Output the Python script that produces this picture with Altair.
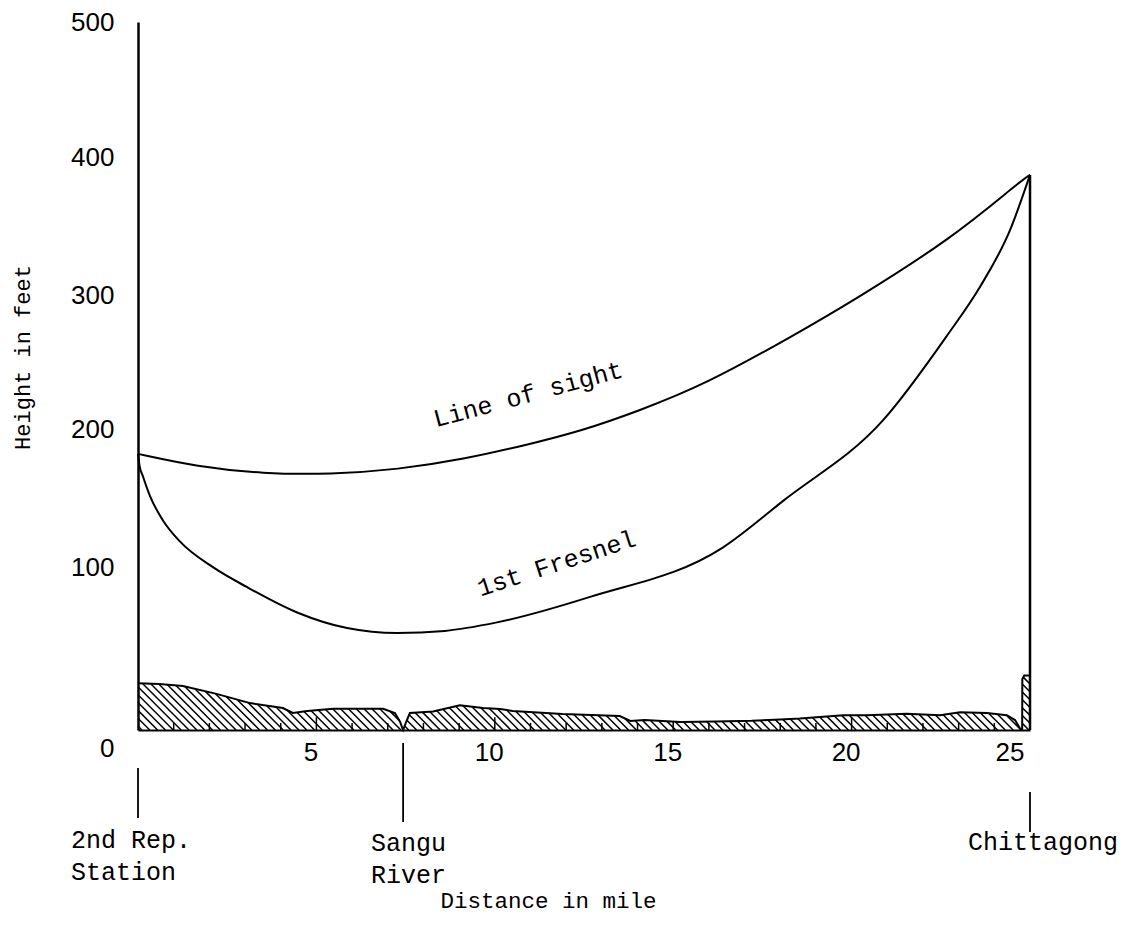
import altair as alt
import numpy as np
import pandas as pd

# Line of sight between the two stations (distance in miles, height in feet)
los_miles = [0, 1.65, 3.5, 5.4, 7.3, 9.1, 11.0, 12.4, 14.0, 15.9, 18.4, 20.1, 22.8, 24.7, 25]
los_feet = [195, 186, 181, 180.5, 184, 191, 202, 211, 225, 244, 279, 304, 347, 387, 392]

# Lower edge of the first Fresnel zone
fres_miles = [0, 0.04, 0.14, 0.34, 0.70, 1.18, 2.10, 3.05, 4.46, 5.86, 7.26, 8.6, 10.06,
              12.67, 16.4, 18.09, 20.89, 22.66, 23.6, 24.44, 25]
fres_feet = [195, 187, 179, 165, 148, 133, 115, 101, 83, 72, 68.5, 70, 76,
             94, 129, 162, 219, 278, 313, 353, 392]

# Ground profile along the path (river notch near 7.4 mi, tower block at Chittagong)
ground_miles = [0, 0.6, 1.26, 2.2, 3.14, 4.06, 4.34, 4.74, 5.47, 6.87, 7.2, 7.34, 7.43,
                7.52, 7.62, 8.27, 9.02, 9.67, 10.15, 10.5, 11.9, 13.5, 13.8, 14.2, 15.2,
                16.2, 17.2, 18.0, 18.55, 19.77, 20.42, 21.54, 22.48, 23.04, 23.79, 24.35,
                24.58, 24.70, 24.74, 24.78, 24.785, 24.84, 25.0]
ground_feet = [33, 32.5, 31, 25.5, 19, 15.5, 12, 13.4, 15, 15, 12, 6, 0,
               6, 12, 13, 17.5, 15.5, 14.8, 13.4, 11.3, 9.9, 6.4, 7, 5.6,
               6, 6.5, 7.5, 8.2, 10.5, 10.5, 11.5, 10.5, 12.5, 12, 10.5,
               7, 2, 0, 0, 36, 38.5, 38.5]

# Axis labels
x_tick_values = [5, 10, 15, 20, 25]
y_tick_values = [0, 100, 200, 300, 400, 500]

# Places marked under the distance axis
place_miles = [0, 7.43, 25]
place_names = ["2nd Rep.\nStation", "Sangu\nRiver", "Chittagong"]
# pointer top / bottom, text baseline (pixels from plot top) and text shift
place_style = [(746, 796, 826, -67), (721, 800, 829, -32), (770, 810, 828, -62)]

FONT = "Liberation Mono"
NUM_FONT = "Liberation Sans"

los = pd.DataFrame({"mi": los_miles, "ft": los_feet})
fres = pd.DataFrame({"mi": fres_miles, "ft": fres_feet})
ground = pd.DataFrame({"mi": ground_miles, "ft": ground_feet, "order": range(len(ground_miles))})

# Diagonal hatching of the ground section, clipped to the profile
slope = 25.2   # feet per mile along a hatch stroke
spacing = 0.22
xs = np.arange(0, 25.0001, 0.004)
ts = np.interp(xs, ground_miles, ground_feet)
segs = []
for c in np.arange(spacing / 2, 25 + max(ground_feet) / slope, spacing):
    h = (c - xs) * slope
    idx = np.flatnonzero((h >= 0) & (h <= ts))
    if idx.size == 0:
        continue
    br = np.flatnonzero(np.diff(idx) > 1)
    starts = np.r_[idx[0], idx[br + 1]]
    ends = np.r_[idx[br], idx[-1]]
    for s, e in zip(starts, ends):
        if e - s < 1:
            continue
        segs.append({"mi": xs[s], "ft": h[s], "mi2": xs[e], "ft2": h[e]})
hatch = pd.DataFrame(segs)

# Mile marks on the base line, taller every five miles
mile_marks = pd.DataFrame({"mi": list(range(1, 25))})
mile_marks["ft"] = [min(9 if m % 5 == 0 else 5, float(np.interp(m, ground_miles, ground_feet)))
                    for m in mile_marks["mi"]]

xscale = alt.Scale(domain=[0, 25], nice=False, zero=False)
yscale = alt.Scale(domain=[0, 500], nice=False)

# Typed tick labels sit a little off the ruled scale
y_label_offset = {
    "condition": [
        {"test": "datum.value == 0", "value": 18},
        {"test": "datum.value == 100", "value": -21},
        {"test": "datum.value == 200", "value": -17},
        {"test": "datum.value == 300", "value": -10},
        {"test": "datum.value == 400", "value": -6},
    ],
    "value": 0,
}

x_axis = alt.Axis(values=x_tick_values, title="Distance in mile", grid=False, ticks=False,
                  domainColor="black", domainWidth=2, labelFont=NUM_FONT, labelFontSize=26,
                  labelColor="black", labelBaseline="middle", labelPadding=22, labelOffset=-6,
                  titleFont=FONT, titleFontSize=22.5, titleFontWeight="normal", titleColor="black",
                  titleX=410, titleY=170, titleBaseline="middle")
y_axis = alt.Axis(values=y_tick_values, title="Height in feet", grid=False, ticks=False,
                  domainColor="black", domainWidth=2.5, labelFont=NUM_FONT, labelFontSize=26,
                  labelColor="black", labelBaseline="middle", labelPadding=24,
                  labelOffset=y_label_offset,
                  titleFont=FONT, titleFontSize=22, titleFontWeight="normal", titleColor="black",
                  titleX=-116, titleY=335, titleBaseline="middle", titleAlign="center")

X = alt.X("mi:Q", scale=xscale, axis=x_axis)
Y = alt.Y("ft:Q", scale=yscale, axis=y_axis)

hatch_layer = alt.Chart(hatch).mark_rule(color="black", strokeWidth=1.5).encode(
    x=X, y=Y, x2="mi2:Q", y2="ft2:Q",
)

ground_line = alt.Chart(ground).mark_line(color="black", strokeWidth=2).encode(
    x=X, y=Y, order="order:Q",
)

marks_layer = alt.Chart(mile_marks).mark_rule(color="black", strokeWidth=1.5).encode(
    x=X, y=Y, y2=alt.datum(0),
)

los_line = alt.Chart(los).mark_line(color="black", strokeWidth=2, interpolate="basis").encode(
    x=X, y=Y,
)
fres_line = alt.Chart(fres).mark_line(color="black", strokeWidth=2, interpolate="monotone").encode(
    x=X, y=Y,
)

# Mast line at Chittagong up to the end of the sight line
mast = alt.Chart(pd.DataFrame({"mi": [los_miles[-1]], "ft": [los_feet[-1]]})).mark_rule(
    color="black", strokeWidth=2.5
).encode(x=X, y=Y, y2=alt.datum(0))

curve_labels = pd.DataFrame({
    "mi": [10.99, 11.8],
    "ft": [231.6, 112.3],
    "label": ["Line of sight", "1st Fresnel"],
    "angle": [345, 342],
})
curve_text = alt.Chart(curve_labels).mark_text(
    font=FONT, fontSize=25, color="black", align="center", baseline="alphabetic"
).encode(
    x=X, y=Y, text="label:N", angle=alt.Angle("angle:Q", scale=None),
)

place_layers = []
for mi, name, (y_top, y_bot, y_txt, shift) in zip(place_miles, place_names, place_style):
    d = pd.DataFrame({"mi": [mi], "name": [name.split("\n")]})
    place_layers.append(
        alt.Chart(d).mark_rule(color="black", strokeWidth=1.8).encode(
            x=X, y=alt.value(y_top), y2=alt.value(y_bot)
        )
    )
    place_layers.append(
        alt.Chart(d).mark_text(
            font=FONT, fontSize=25, color="black", align="left", baseline="alphabetic",
            lineHeight=32, dx=shift
        ).encode(x=X, y=alt.value(y_txt), text="name")
    )

chart = alt.layer(
    hatch_layer, ground_line, marks_layer, los_line, fres_line, mast, curve_text, *place_layers,
).properties(
    width=892,
    height=708,
    padding={"left": 138, "top": 22, "right": 93, "bottom": 199},
    autosize="none",
    background="white",
).configure_view(stroke=None)

chart.save("out.html", embed_options={"renderer": "svg", "actions": False})
